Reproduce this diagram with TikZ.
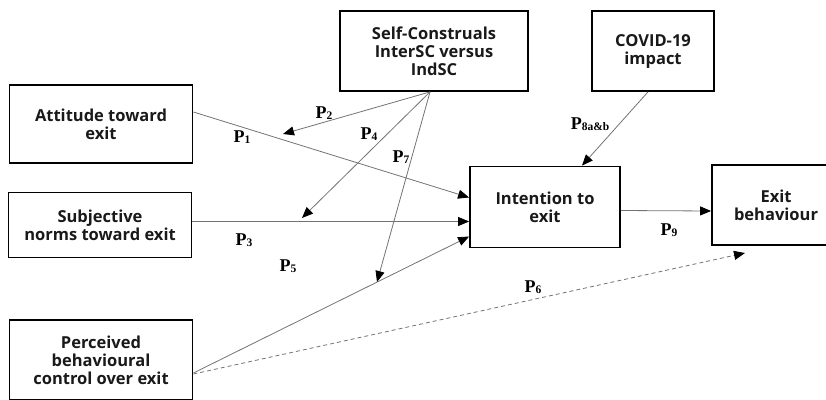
\documentclass[tikz,border=0pt]{standalone}
\usepackage{fontspec}
\setmainfont{Open Sans}
\newfontfamily\plabfont{Liberation Serif}
\usetikzlibrary{arrows.meta}

\newcommand{\plab}[1]{{\plabfont\bfseries\fontsize{18}{18}\selectfont P\raisebox{-1.5pt}{\fontsize{11.5}{11.5}\selectfont #1}}}

\tikzset{
  construct/.style={draw, line width=1.8pt, inner sep=0pt, align=center,
    font=\bfseries\fontsize{16.5}{18}\selectfont, text=black!90},
  path/.style={draw=black!55, line width=0.8pt, -{Triangle[length=11pt,width=9pt,color=black]}},
  dashpath/.style={path, dash pattern=on 4pt off 3pt}
}

\begin{document}
\begin{tikzpicture}[x=1pt,y=-1pt]
\useasboundingbox (0,0) rectangle (826,399);

\node[construct, minimum width=183pt, minimum height=78pt] (attitude) at (101,124) {Attitude toward\\exit};
\node[construct, minimum width=183pt, minimum height=65pt] (norms) at (100,225) {Subjective\\norms toward exit};
\node[construct, minimum width=183pt, minimum height=80pt] (control) at (101,360) {Perceived\\behavioural\\control over exit};
\node[construct, minimum width=188pt, minimum height=80pt] (selfc) at (434,51) {Self-Construals\\InterSC versus\\IndSC};
\node[construct, minimum width=122pt, minimum height=80pt] (covid) at (653,51) {COVID-19\\impact};
\node[construct, minimum width=150pt, minimum height=81pt] (intent) at (545,207) {Intention to\\exit};
\node[construct, minimum width=128pt, minimum height=80pt] (behav) at (776,205) {Exit\\behaviour};

% moderating paths end on the main paths
\coordinate (sc) at ([xshift=-4pt]selfc.south);
\coordinate (p2end) at (283,134);
\coordinate (p4end) at (302,218);
\coordinate (p7end) at (377,282);
\coordinate (p6end) at (745,253);

\draw[path] ([yshift=12pt]attitude.east) -- ([yshift=9.5pt]intent.west);
\draw[path] ([yshift=3.5pt]norms.east) -- ([yshift=-14.5pt]intent.west);
\draw[path] ([yshift=-13pt]control.east) -- ([yshift=-29.5pt]intent.west);
\draw[dashpath] ([yshift=-14pt]control.east) -- (p6end);
\draw[path] (sc) -- (p2end);
\draw[path] (sc) -- (p4end);
\draw[path] (sc) -- (p7end);
\draw[path] ([xshift=-5pt]covid.south) -- ([xshift=37pt]intent.north);
\draw[path] ([yshift=-3.5pt]intent.east) -- ([yshift=-6pt]behav.west);

\node (l1) at (242,137) {\plab{1}};
\node (l2) at (324,113) {\plab{2}};
\node (l3) at (244,240) {\plab{3}};
\node (l4) at (369,134) {\plab{4}};
\node (l5) at (288,266) {\plab{5}};
\node (l6) at (533,287) {\plab{6}};
\node (l7) at (401,157) {\plab{7}};
\node (l8) at (590,124) {\plab{8a\&b}};
\node (l9) at (669,230) {\plab{9}};
\end{tikzpicture}
\end{document}
